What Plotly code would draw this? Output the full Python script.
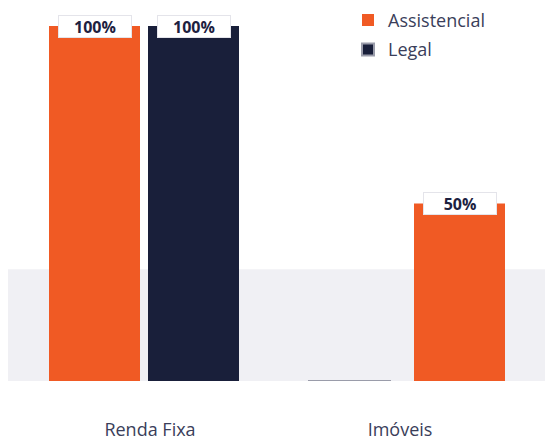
import plotly.graph_objects as go

categories = ["Renda Fixa", "Imóveis"]
assistencial = [100, 50]
legal = [100, 0]
series_names = ["Assistencial", "Legal"]

ORANGE = "#f05a24"
NAVY = "#191f3a"
TEXT = "#3a3e5a"

fig = go.Figure()
# per-point offsets reproduce the reference's slot layout
fig.add_trace(go.Bar(
    x=categories, y=assistencial, name=series_names[0], legendgroup="a",
    marker=dict(color=ORANGE, line=dict(width=0)),
    width=0.364, offset=[-0.404, 0.056],
))
fig.add_trace(go.Bar(
    x=categories, y=legal, name=series_names[1], legendgroup="b",
    marker=dict(color=NAVY, line=dict(width=[0, 2], color="#9a9caa")),
    width=[0.364, 0.332], offset=[-0.008, -0.368],
))

# pill labels
for vals, offs, w in [(assistencial, [-0.404, 0.056], [0.364, 0.364]),
                      (legal, [-0.008, -0.368], [0.364, 0.332])]:
    for i, v in enumerate(vals):
        if v <= 0:
            continue
        fig.add_annotation(
            x=i + offs[i] + w[i] / 2, y=v, xref="x", yref="y",
            text=f"<b>{v}%</b>", showarrow=False,
            font=dict(family="Open Sans", size=16, color="#1d2140"),
            bgcolor="white", bordercolor="#e4e4ea", borderwidth=1,
            borderpad=2, width=68, height=17,
            yanchor="middle", xanchor="center",
        )

# light grey band behind the lower part of the bars
fig.add_shape(type="rect", xref="paper", yref="y", x0=-0.034, x1=1.08,
              y0=0, y1=31.5, fillcolor="#f0f0f4", line=dict(width=0),
              layer="below")

fig.update_layout(
    width=553, height=440,
    margin=dict(l=17, r=36, t=18, b=67, autoexpand=False),
    paper_bgcolor="white", plot_bgcolor="rgba(0,0,0,0)",
    barmode="group", showlegend=True,
    legend=dict(x=0.646, y=1.068, xanchor="left", yanchor="top",
                font=dict(family="Open Sans", size=18, color=TEXT),
                bgcolor="rgba(0,0,0,0)", itemsizing="constant",
                traceorder="grouped", tracegroupgap=3),
    xaxis=dict(type="category", range=[-0.5, 1.5], showgrid=False,
               zeroline=False, showline=False, ticks="",
               tickfont=dict(family="Open Sans", size=18, color=TEXT),
               ticklabelstandoff=36),
    yaxis=dict(range=[0, 100], visible=False, showgrid=False),
)

fig.write_html("out.html")
